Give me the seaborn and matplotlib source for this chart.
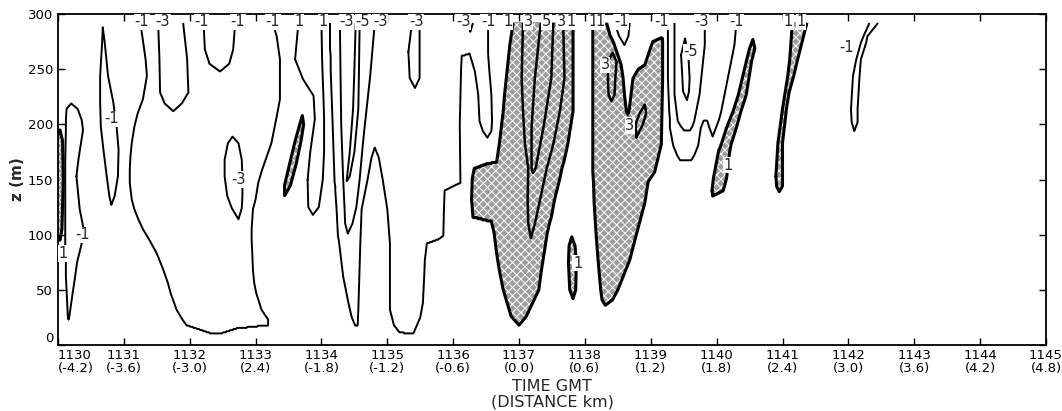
import numpy as np
import matplotlib
matplotlib.use("Agg")
import matplotlib.pyplot as plt
import seaborn as sns

# Contour outlines.
# Each row is (z in m, left edge, right edge) with time in GMT (1130.5 = 11:30:30).
# A row whose two edges coincide is the tip of the contour.

# w < -1 m/s
neg1_b = [(23, 1130.16, 1130.16), (25, 1130.15, 1130.17), (50, 1130.13, 1130.23), (62, 1130.12, 1130.26),
          (75, 1130.12, 1130.29), (92, 1130.11, 1130.36), (108, 1130.11, 1130.38), (123, 1130.11, 1130.33),
          (153, 1130.11, 1130.28), (168, 1130.11, 1130.31), (195, 1130.12, 1130.38), (204, 1130.12, 1130.36),
          (214, 1130.13, 1130.30), (219, 1130.20, 1130.20)]
neg1_c = [(127, 1130.81, 1130.81), (135, 1130.78, 1130.86), (153, 1130.74, 1130.91), (177, 1130.69, 1130.92),
          (198, 1130.65, 1130.89), (220, 1130.64, 1130.84), (244, 1130.64, 1130.76), (274, 1130.67, 1130.71),
          (288, 1130.68, 1130.68)]
neg1_d = [(11, 1132.30, 1132.50), (15, 1132.10, 1132.71), (18, 1131.95, 1133.19), (23, 1131.89, 1133.19),
          (32, 1131.80, 1133.09), (47, 1131.71, 1133.01), (56, 1131.67, 1132.98), (68, 1131.60, 1132.96),
          (83, 1131.50, 1132.95), (95, 1131.39, 1132.94), (105, 1131.29, 1132.94), (114, 1131.22, 1132.95),
          (123, 1131.16, 1132.96), (132, 1131.12, 1133.00), (147, 1131.09, 1133.04), (159, 1131.09, 1133.10),
          (171, 1131.10, 1133.17), (183, 1131.12, 1133.24), (198, 1131.16, 1133.29), (210, 1131.21, 1133.33),
          (223, 1131.29, 1133.37), (244, 1131.35, 1133.37), (259, 1131.33, 1133.37), (280, 1131.28, 1133.32),
          (292, 1131.25, 1133.26)]
neg1_t = [(118, 1133.87, 1133.87), (125, 1133.80, 1133.96), (150, 1133.79, 1134.02), (175, 1133.83, 1134.04),
          (205, 1133.90, 1134.04), (226, 1133.88, 1134.03), (241, 1133.72, 1134.02), (259, 1133.60, 1134.01),
          (292, 1133.65, 1134.00)]
neg1_f = [(11, 1135.25, 1135.40), (18, 1134.51, 1135.45), (25, 1134.46, 1135.50), (38, 1134.41, 1135.54),
          (50, 1134.37, 1135.55), (62, 1134.33, 1135.56), (77, 1134.30, 1135.57), (92, 1134.27, 1135.60),
          (96, 1134.26, 1135.78), (99, 1134.25, 1135.85), (123, 1134.23, 1135.86), (140, 1134.21, 1135.87),
          (144, 1134.21, 1136.00), (147, 1134.20, 1136.11), (200, 1134.17, 1136.10), (250, 1134.14, 1136.12),
          (262, 1134.14, 1136.13), (268, 1134.13, 1136.45), (292, 1134.13, 1136.53)]
neg1_f2 = [(188, 1136.52, 1136.52), (194, 1136.45, 1136.58), (203, 1136.40, 1136.59), (227, 1136.38, 1136.58),
           (248, 1136.33, 1136.55), (264, 1136.25, 1136.53), (292, 1136.30, 1136.53)]
neg1_v = [(272, 1138.60, 1138.60), (280, 1138.52, 1138.66), (292, 1138.45, 1138.68)]
neg1_l = [(168, 1139.44, 1139.62), (172, 1139.40, 1139.66), (181, 1139.34, 1139.72), (197, 1139.29, 1139.76),
          (203, 1139.29, 1139.80), (205, 1139.29, 1140.04), (212, 1139.28, 1140.07), (242, 1139.26, 1140.17),
          (272, 1139.26, 1140.27), (292, 1139.26, 1140.30)]
neg1_l2 = [(189, 1139.94, 1139.94), (197, 1139.89, 1139.99), (205, 1139.85, 1140.04)]
neg1_q = [(194, 1142.09, 1142.09), (202, 1142.05, 1142.14), (214, 1142.04, 1142.14), (244, 1142.07, 1142.17),
          (259, 1142.12, 1142.19), (274, 1142.19, 1142.27), (280, 1142.23, 1142.29), (292, 1142.32, 1142.45)]
# gaps in the w < -1 areas (w > -1 inside)
hole_d = [(248, 1132.46, 1132.46), (255, 1132.30, 1132.60), (268, 1132.23, 1132.66), (292, 1132.21, 1132.69)]
hole_f = [(0, 1134.50, 1135.25), (11, 1134.52, 1135.19), (18, 1134.55, 1135.10), (32, 1134.56, 1135.04),
          (92, 1134.59, 1135.04), (123, 1134.61, 1135.00), (150, 1134.70, 1134.93), (170, 1134.76, 1134.87),
          (179, 1134.81, 1134.81)]

# w < -3 m/s
neg3_d = [(212, 1131.75, 1131.75), (219, 1131.62, 1131.88), (229, 1131.55, 1131.98), (260, 1131.54, 1131.96),
          (292, 1131.52, 1131.90)]
neg3_d2 = [(114, 1132.74, 1132.74), (124, 1132.64, 1132.79), (135, 1132.57, 1132.80), (153, 1132.53, 1132.80),
           (168, 1132.53, 1132.79), (183, 1132.58, 1132.74), (189, 1132.65, 1132.65)]
neg3_f = [(101, 1134.40, 1134.40), (110, 1134.36, 1134.47), (125, 1134.35, 1134.53), (150, 1134.33, 1134.58),
          (183, 1134.31, 1134.63), (200, 1134.30, 1134.66), (244, 1134.29, 1134.74), (292, 1134.28, 1134.81)]
neg3_f2 = [(233, 1135.42, 1135.42), (242, 1135.34, 1135.49), (266, 1135.32, 1135.49), (285, 1135.36, 1135.49),
           (292, 1135.39, 1135.47)]
neg3_f3 = [(284, 1136.26, 1136.26), (292, 1136.22, 1136.30)]
neg3_l = [(195, 1139.50, 1139.60), (198, 1139.46, 1139.63), (203, 1139.41, 1139.66), (227, 1139.36, 1139.74),
          (272, 1139.36, 1139.82), (292, 1139.36, 1139.82)]

# w < -5 m/s
neg5_f = [(148, 1134.38, 1134.38), (153, 1134.39, 1134.43), (175, 1134.43, 1134.50), (214, 1134.48, 1134.56),
          (250, 1134.50, 1134.57), (292, 1134.52, 1134.58)]
neg5_l = [(222, 1139.55, 1139.55), (230, 1139.49, 1139.58), (242, 1139.48, 1139.59), (263, 1139.46, 1139.57),
          (278, 1139.52, 1139.52)]

# w > 1 m/s (shaded)
pos1_a = [(95, 1130.03, 1130.03), (105, 1129.95, 1130.06), (150, 1129.95, 1130.08), (185, 1129.95, 1130.07),
          (195, 1130.03, 1130.03)]
pos1_e = [(135, 1133.44, 1133.44), (145, 1133.44, 1133.53), (165, 1133.52, 1133.62), (185, 1133.60, 1133.69),
          (200, 1133.67, 1133.73), (208, 1133.71, 1133.71)]
pos1_g = [(18, 1137.00, 1137.00), (26, 1136.88, 1137.11), (50, 1136.76, 1137.30), (68, 1136.70, 1137.34),
          (83, 1136.66, 1137.38), (102, 1136.62, 1137.43), (112, 1136.58, 1137.47), (116, 1136.30, 1137.49),
          (132, 1136.28, 1137.54), (151, 1136.29, 1137.62), (160, 1136.32, 1137.65), (164, 1136.50, 1137.67),
          (166, 1136.66, 1137.68), (182, 1136.70, 1137.74), (197, 1136.73, 1137.78), (212, 1136.76, 1137.82),
          (227, 1136.78, 1137.82), (272, 1136.86, 1137.82), (292, 1136.91, 1137.82)]
pos1_j = [(42, 1137.82, 1137.82), (50, 1137.77, 1137.86), (75, 1137.75, 1137.87), (90, 1137.76, 1137.85),
          (98, 1137.80, 1137.80)]
pos1_k = [(36, 1138.31, 1138.31), (41, 1138.26, 1138.42), (50, 1138.24, 1138.50), (77, 1138.20, 1138.68),
          (100, 1138.17, 1138.78), (129, 1138.14, 1138.91), (148, 1138.13, 1138.96), (157, 1138.12, 1139.06),
          (182, 1138.12, 1139.16), (242, 1138.12, 1139.18), (275, 1138.12, 1139.18), (292, 1138.12, 1139.16)]
pos1_m = [(135, 1139.94, 1139.94), (140, 1139.93, 1140.10), (151, 1139.95, 1140.15), (176, 1140.03, 1140.20),
          (182, 1140.07, 1140.22), (197, 1140.15, 1140.30), (212, 1140.25, 1140.37), (227, 1140.33, 1140.45),
          (257, 1140.45, 1140.53), (269, 1140.50, 1140.58), (277, 1140.55, 1140.55)]
pos1_p = [(139, 1140.95, 1140.95), (144, 1140.91, 1141.00), (153, 1140.90, 1141.00), (183, 1140.93, 1141.00),
          (214, 1141.00, 1141.06), (229, 1141.04, 1141.10), (244, 1141.08, 1141.17), (259, 1141.11, 1141.23),
          (292, 1141.15, 1141.37)]
hole_k = [(209, 1138.65, 1138.65), (212, 1138.63, 1138.67), (227, 1138.60, 1138.70), (242, 1138.58, 1138.73),
          (250, 1138.56, 1138.81), (254, 1138.55, 1138.91), (263, 1138.50, 1138.96), (275, 1138.43, 1139.03),
          (281, 1138.38, 1139.25), (292, 1138.33, 1139.30)]

# w > 3 m/s
pos3_g = [(97, 1137.18, 1137.18), (110, 1137.14, 1137.24), (132, 1137.13, 1137.32), (160, 1137.14, 1137.42),
          (182, 1137.09, 1137.52), (212, 1137.06, 1137.62), (242, 1137.04, 1137.69), (292, 1137.06, 1137.67)]
pos3_k = [(221, 1138.40, 1138.40), (227, 1138.36, 1138.45), (240, 1138.35, 1138.46), (257, 1138.35, 1138.48),
          (265, 1138.42, 1138.42)]
pos3_k2 = [(188, 1138.78, 1138.78), (200, 1138.77, 1138.88), (210, 1138.83, 1138.93), (218, 1138.91, 1138.91)]

# w > 5 m/s
pos5_g = [(156, 1137.21, 1137.21), (160, 1137.19, 1137.25), (197, 1137.19, 1137.37), (242, 1137.24, 1137.49),
          (292, 1137.33, 1137.52)]

x_ticks = list(range(1130, 1146))
distance_labels = ["(-4.2)", "(-3.6)", "(-3.0)", "(2.4)", "(-1.8)", "(-1.2)", "(-0.6)", "(0.0)",
                   "(0.6)", "(1.2)", "(1.8)", "(2.4)", "(3.0)", "(3.6)", "(4.2)", "(4.8)"]

# label text placed on the contours, as in the original figure
top_labels = [(1131.27, "-1"), (1131.59, "-3"), (1132.18, "-1"), (1132.73, "-1"), (1133.26, "-1"),
              (1133.66, "1"), (1134.02, "1"), (1134.38, "-3"), (1134.63, "-5"), (1134.89, "-3"),
              (1135.44, "-3"), (1136.15, "-3"), (1136.53, "-1"), (1136.83, "1"), (1137.14, "3"),
              (1137.42, "5"), (1137.64, "3"), (1137.79, "1"), (1138.12, "1"), (1138.23, "1"),
              (1138.55, "-1"), (1139.16, "-1"), (1139.77, "-3"), (1140.30, "-1"), (1141.09, "1"),
              (1141.28, "1")]
inner_labels = [(1130.08, 83, "1"), (1130.38, 100, "-1"), (1130.82, 205, "-1"), (1132.74, 150, "-3"),
                (1137.89, 74, "1"), (1138.31, 254, "3"), (1138.68, 199, "3"), (1139.61, 266, "-5"),
                (1140.18, 163, "1"), (1141.97, 270, "-1")]

RAMP = 0.02
t_grid = np.arange(1130.0, 1145.0001, 0.005)
z_grid = np.arange(0.0, 293.0, 1.0)
TT, ZZ = np.meshgrid(t_grid, z_grid)


def region(rows):
    """Soft indicator of one outline: 0.5 exactly on the traced edge."""
    rows = np.asarray(rows, dtype=float)
    z, left, right = rows[:, 0], rows[:, 1], rows[:, 2]
    inside = (z_grid >= z.min()) & (z_grid <= z.max())
    left_z = np.interp(z_grid, z, left)[:, None]
    right_z = np.interp(z_grid, z, right)[:, None]
    dist = np.minimum(TT - left_z, right_z - TT)
    ind = np.clip(0.5 + dist / RAMP, 0, 1)
    ind[~inside, :] = 0
    return ind


def level_area(shapes, holes=()):
    area = np.max([region(s) for s in shapes], axis=0)
    if holes:
        area = area - np.max([region(h) for h in holes], axis=0)
    return np.clip(area, 0, 1)


neg1 = level_area([neg1_b, neg1_c, neg1_d, neg1_t, neg1_f, neg1_f2, neg1_v, neg1_l, neg1_l2, neg1_q],
                  [hole_d, hole_f])
neg3 = level_area([neg3_d, neg3_d2, neg3_f, neg3_f2, neg3_f3, neg3_l])
neg5 = level_area([neg5_f, neg5_l])
pos1 = level_area([pos1_a, pos1_e, pos1_g, pos1_j, pos1_k, pos1_m, pos1_p], [hole_k])
pos3 = level_area([pos3_g, pos3_k, pos3_k2])
pos5 = level_area([pos5_g])
w = 2 * (pos1 + pos3 + pos5) - 2 * (neg1 + neg3 + neg5)

sns.set_theme(style="ticks")
plt.rcParams["font.family"] = ["DejaVu Sans"]
plt.rcParams["hatch.color"] = "#e4e4e4"
plt.rcParams["hatch.linewidth"] = 0.7
plt.rcParams["contour.negative_linestyle"] = "solid"

fig = plt.figure(figsize=(10.62, 4.11), dpi=100)
ax = fig.add_axes([0.0546, 0.1606, 0.9303, 0.805])

ax.contourf(t_grid, z_grid, w, levels=[1, 20], colors=["#9e9e9e"], hatches=["xxxx"])
ax.contour(t_grid, z_grid, w, levels=[-5, -3, -1], colors="black", linewidths=1.4, linestyles="solid")
ax.contour(t_grid, z_grid, w, levels=[3, 5], colors="black", linewidths=1.8, linestyles="solid")
ax.contour(t_grid, z_grid, w, levels=[1], colors="black", linewidths=2.2, linestyles="solid")

box = dict(facecolor="white", edgecolor="none", pad=0.4)
for t, s in top_labels:
    ax.text(t, 293, s, ha="center", va="center", fontsize=10.5, bbox=box)
for t, z, s in inner_labels:
    ax.text(t, z, s, ha="center", va="center", fontsize=10.5, bbox=box)

ax.set_xlim(1130, 1145)
ax.set_ylim(0, 300)
ax.set_xticks(x_ticks)
ax.set_xticklabels(["{}\n{}".format(t, d) for t, d in zip(x_ticks, distance_labels)],
                   fontsize=9, linespacing=1.0)
ax.set_yticks(range(0, 301, 50))
ax.tick_params(axis="both", direction="in", top=True, right=True, length=5, width=1.0,
               colors="black", labelsize=9.5)
ax.tick_params(axis="x", pad=3)
ax.get_yticklabels()[0].set_verticalalignment("bottom")
ax.get_xticklabels()[0].set_horizontalalignment("left")
ax.set_ylabel("z (m)", fontsize=11, fontweight="bold", labelpad=2)
ax.set_xlabel("TIME GMT\n(DISTANCE km)", fontsize=11.5, linespacing=1.0, labelpad=3)
for spine in ax.spines.values():
    spine.set_linewidth(1.3)
    spine.set_color("black")

fig.savefig("out.png", dpi=100)
